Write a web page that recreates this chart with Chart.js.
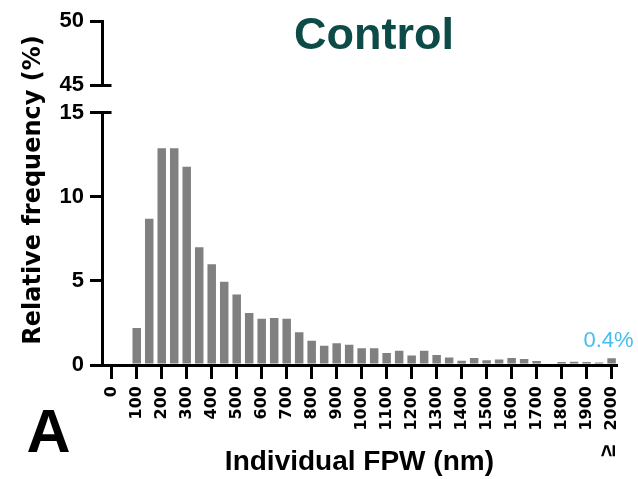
<!DOCTYPE html>
<html>
<head>
<meta charset="utf-8">
<script src="https://cdn.jsdelivr.net/npm/chart.js@4.4.1/dist/chart.umd.min.js"></script>
<style>
  html, body { margin: 0; padding: 0; background: #ffffff; }
  canvas { display: block; }
</style>
</head>
<body>
<canvas id="fpwChart" width="638" height="479"></canvas>
<script>
// Histogram bins (nm, bin centre) and relative frequency (%)
const binCenters = [100, 150, 200, 250, 300, 350, 400, 450, 500, 550,
                    600, 650, 700, 750, 800, 850, 900, 950, 1000, 1050,
                    1100, 1150, 1200, 1250, 1300, 1350, 1400, 1450, 1500, 1550,
                    1600, 1650, 1700, 1750, 1800, 1850, 1900, 1950, 2000];
const frequencies = [2.2, 8.7, 12.9, 12.9, 11.8, 7.0, 6.0, 4.95, 4.2, 3.1,
                     2.75, 2.8, 2.75, 1.95, 1.45, 1.15, 1.3, 1.2, 1.0, 1.0,
                     0.72, 0.85, 0.56, 0.85, 0.6, 0.45, 0.26, 0.42, 0.28, 0.32,
                     0.42, 0.36, 0.24, 0, 0.18, 0.2, 0.18, 0.15, 0.4];

// Axis ticks
const xTickValues = [0, 100, 200, 300, 400, 500, 600, 700, 800, 900, 1000,
                     1100, 1200, 1300, 1400, 1500, 1600, 1700, 1800, 1900, 2000];
const xTickLabels = ['0', '100', '200', '300', '400', '500', '600', '700', '800', '900', '1000',
                     '1100', '1200', '1300', '1400', '1500', '1600', '1700', '1800', '1900', '2000'];
const lastBinPrefix = '\u2265';   // the last bin is open-ended: ≥ 2000
const lowerYTicks = [0, 5, 10, 15];
const upperYTicks = [45, 50];

// Text
const chartTitle = 'Control';
const panelLetter = 'A';
const xTitle = 'Individual FPW (nm)';
const yTitle = 'Relative frequency (%)';

const BLACK = '#000000';
const tickFont = { family: 'Liberation Sans', weight: 'bold', size: 22 };

function alignPx(pixel, width) {
  const half = width / 2;
  return Math.round(pixel - half) + half;
}

// Titles, the broken-axis segment and the value label of the last bin
const annotations = {
  id: 'annotations',
  afterDraw(chart) {
    const { ctx, chartArea, scales } = chart;
    const yTop = scales.yTop, yLow = scales.y, x = scales.x;
    ctx.save();

    // short axis segment for the upper range, with break caps
    const ax = alignPx(chartArea.left, 3);
    ctx.strokeStyle = BLACK;
    ctx.lineWidth = 3;
    ctx.lineCap = 'butt';
    const y50 = alignPx(yTop.getPixelForValue(upperYTicks[1]), 3);
    const y45 = alignPx(yTop.getPixelForValue(upperYTicks[0]), 3);
    const y15 = alignPx(yLow.getPixelForValue(lowerYTicks[3]), 3);
    ctx.beginPath();
    ctx.moveTo(ax, y50 - 1.5);
    ctx.lineTo(ax, y45 + 1.5);
    ctx.moveTo(ax, y45);
    ctx.lineTo(ax + 9, y45);
    ctx.moveTo(ax, y15);
    ctx.lineTo(ax + 9, y15);
    ctx.stroke();

    // chart title
    ctx.fillStyle = '#0c4b48';
    ctx.font = 'bold 45px "Liberation Sans"';
    ctx.textAlign = 'center';
    ctx.textBaseline = 'alphabetic';
    ctx.fillText(chartTitle, 374, 49);

    // panel letter
    ctx.fillStyle = BLACK;
    ctx.font = 'bold 61px "Liberation Sans"';
    ctx.fillText(panelLetter, 48.5, 452);

    // y-axis title, centred on the full broken axis
    ctx.save();
    ctx.translate(40, 190);
    ctx.rotate(-Math.PI / 2);
    ctx.font = 'bold 24px "DejaVu Sans"';
    ctx.textAlign = 'center';
    ctx.fillText(yTitle, 0, 0);
    ctx.restore();

    // "≥" below the last tick label
    const tx = x.getPixelForValue(xTickValues[xTickValues.length - 1]);
    ctx.save();
    ctx.translate(tx - 3, 451);
    ctx.rotate(-Math.PI / 2);
    ctx.font = 'bold 22px "Liberation Sans"';
    ctx.textAlign = 'center';
    ctx.textBaseline = 'middle';
    ctx.fillText(lastBinPrefix, 0, 0);
    ctx.restore();

    // value label above the last (open-ended) bin
    const lastIdx = frequencies.length - 1;
    const lx = x.getPixelForValue(binCenters[lastIdx]);
    const ly = yLow.getPixelForValue(frequencies[lastIdx]);
    ctx.fillStyle = '#45bdf0';
    ctx.font = '22px "Liberation Sans"';
    ctx.textAlign = 'center';
    ctx.textBaseline = 'alphabetic';
    ctx.fillText(frequencies[lastIdx] + '%', lx - 3, ly - 11);

    ctx.restore();
  }
};

const yGrid = { display: true, drawOnChartArea: false, drawTicks: true, tickLength: 12, lineWidth: 3, color: BLACK };

new Chart(document.getElementById('fpwChart'), {
  type: 'bar',
  data: {
    datasets: [{
      data: binCenters.map((c, i) => ({ x: c, y: frequencies[i] })),
      backgroundColor: '#808080',
      borderWidth: 0,
      barPercentage: 0.68,
      categoryPercentage: 1.0,
      yAxisID: 'y'
    }]
  },
  options: {
    responsive: false,
    animation: false,
    devicePixelRatio: 1,
    layout: { padding: { top: 21, left: 0, right: 21, bottom: 0 } },
    plugins: {
      legend: { display: false },
      tooltip: { enabled: false },
      title: { display: false }
    },
    scales: {
      x: {
        type: 'linear',
        min: -39,
        max: 2021,
        offset: false,
        afterBuildTicks: s => { s.ticks = xTickValues.map(v => ({ value: v })); },
        afterFit: s => { s.height = 114; },
        grid: { display: true, drawOnChartArea: false, drawTicks: true, tickLength: 14, lineWidth: 3, color: BLACK, offset: false },
        border: { display: true, width: 3, color: BLACK },
        ticks: {
          autoSkip: false,
          minRotation: 90,
          maxRotation: 90,
          padding: 7,
          color: BLACK,
          font: { family: 'DejaVu Sans', weight: 'bold', size: 16 },
          callback: (v, i) => xTickLabels[i]
        },
        title: {
          display: true,
          text: xTitle,
          color: BLACK,
          font: { family: 'Liberation Sans', weight: 'bold', size: 28 },
          padding: { top: 0, bottom: 0 }
        }
      },
      y: {
        type: 'linear',
        position: 'left',
        stack: 'freq',
        stackWeight: 252.3,
        min: 0,
        max: 15,
        afterBuildTicks: s => { s.ticks = lowerYTicks.map(v => ({ value: v })); },
        afterFit: s => { s.width = 102; },
        grid: yGrid,
        border: { display: true, width: 3, color: BLACK },
        ticks: { padding: 6, color: BLACK, font: tickFont }
      },
      yTop: {
        type: 'linear',
        position: 'left',
        stack: 'freq',
        stackWeight: 92,
        min: 42.82,
        max: 50,
        afterBuildTicks: s => { s.ticks = upperYTicks.map(v => ({ value: v })); },
        afterFit: s => { s.width = 102; },
        grid: yGrid,
        border: { display: false },
        ticks: { padding: 6, color: BLACK, font: tickFont }
      }
    }
  },
  plugins: [annotations]
});
</script>
</body>
</html>
